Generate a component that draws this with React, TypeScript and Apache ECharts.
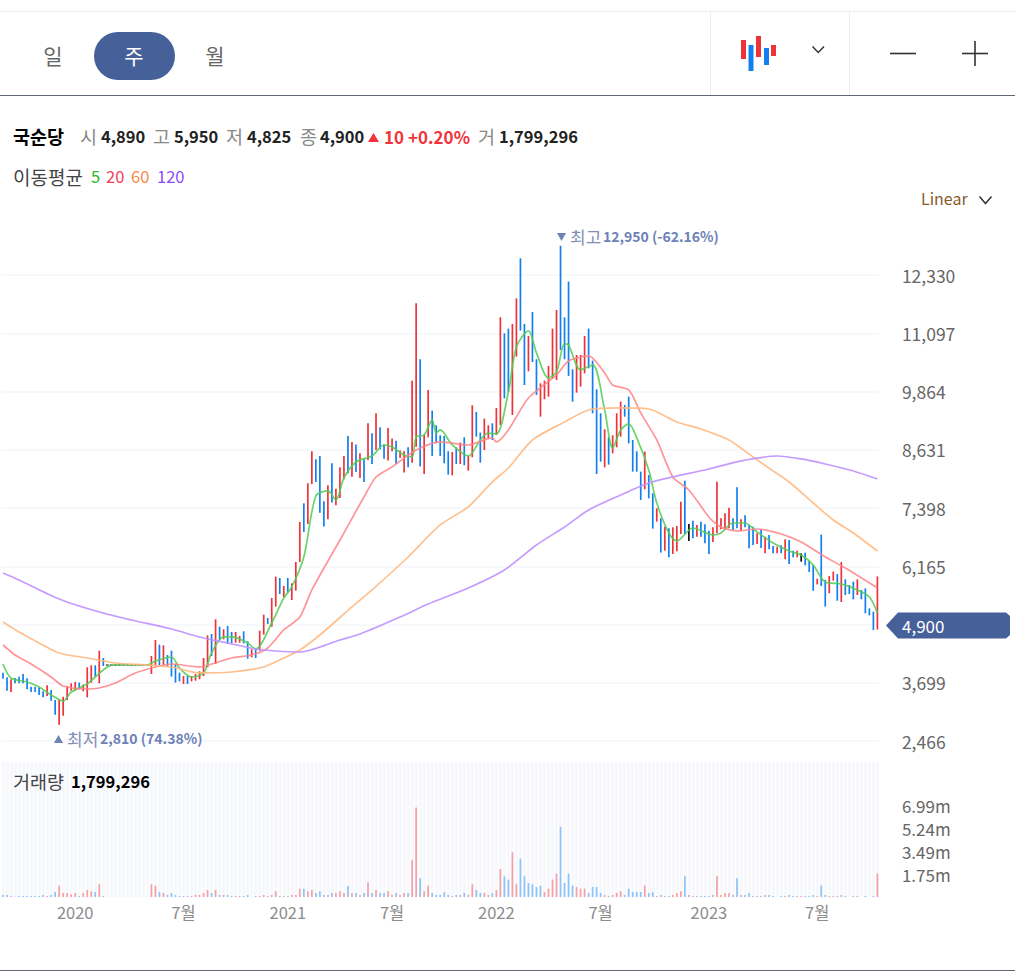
import React, { useEffect, useRef } from "react";
import * as echarts from "echarts";

const highs = [
  3912,3814,3772,3800,3828,3885,3793,3616,3616,3600,
  3518,3645,3546,3334,3334,3405,3630,3687,3715,3700,
  3660,4026,4068,4068,4378,4223,4085,4085,4085,4085,
  4085,4085,4085,4085,4085,4085,4085,4266,4604,4505,
  4491,4287,4378,4096,3912,3842,3842,3842,3885,3941,
  4223,4703,4731,5042,4886,4830,4900,4774,4774,4689,
  4788,4576,4407,4421,4802,5141,5070,5494,5945,5917,
  5748,5917,5804,6256,7102,7497,7921,8598,8429,8500,
  7540,7879,8344,7808,8260,8500,8923,8796,8740,8556,
  8429,9191,8980,9403,9107,8740,9092,8867,8824,8613,
  8598,8683,10094,11732,10546,8951,9897,9459,9149,8937,
  8923,8598,8584,8683,8782,8895,8500,9572,9431,8994,
  9290,9149,9191,9516,11435,11096,11195,11294,11837,12684,
  11294,11040,11548,10546,10038,10094,10405,11195,11590,12950,
  11435,12190,10334,10638,10638,11040,11195,10518,9911,9403,
  9064,8895,8937,9403,9650,9580,9756,8838,8598,8168,
  8591,8097,7709,7391,7180,7003,6968,6989,7017,7532,
  7977,7060,7130,7038,7109,7053,6918,6989,7956,7180,
  7285,7405,7180,7836,7159,7243,7046,7003,6862,6947,
  6792,6827,6594,6580,6608,6735,6721,6495,6495,6439,
  6453,6284,6192,5900,6834,5874,5959,6051,6001,6255,
  5888,5768,5839,5888,5662,5697,5274,5204,5950,
];

const lows = [
  3786,3532,3503,3687,3687,3687,3560,3503,3503,3440,
  3390,3420,3320,3024,2810,3000,3334,3532,3532,3560,
  3518,3390,3700,3828,3687,4054,4065,4065,4065,4065,
  4065,4065,4065,4065,4065,4065,4065,3885,4068,4054,
  4068,4040,3828,3701,3729,3673,3673,3729,3743,3772,
  3842,4026,4266,4096,4604,4618,4520,4534,4548,4548,
  4534,4209,4237,4223,4378,4717,4943,4886,5310,5578,
  5508,5606,5451,5649,6256,6891,7060,7907,7949,7300,
  7004,7159,7512,7455,7610,8006,8133,8062,8161,8034,
  7949,8415,8330,8627,8641,8443,8401,8598,8330,8457,
  8147,8260,8358,8697,8274,8118,8895,8500,8768,8500,
  8344,8105,8090,8330,8330,8302,8189,8472,8909,8358,
  8626,8873,8838,8944,9156,9720,9861,9367,10602,11153,
  10002,10292,10489,9791,9332,9699,9755,10143,10108,10743,
  10546,10193,9650,9840,9967,10249,10355,9403,8118,8379,
  8260,8316,8556,8683,8909,9332,8767,8168,8168,7568,
  7794,7603,6961,7109,6453,6495,6354,6425,6481,6848,
  6848,6700,6756,6792,6792,6650,6425,6679,6862,6947,
  6947,6968,6933,6968,6918,6989,6544,6615,6636,6552,
  6439,6523,6439,6439,6439,6312,6213,6354,6354,6262,
  6185,6043,5648,5780,5747,5310,5592,5860,5436,5408,
  5556,5578,5465,5556,5465,5168,5126,4816,4825,
];

const directions =
  "bbrbbbbbbb" + "brbbrrrrrb" + "rrrbrbkkkk" + "kkkkkkkrrb" + "rbbbbrbrrr" +
  "rrbrbrbbrr" + "bbrbrrbrrb" + "rbrrrbrrbb" + "brbrrrbrbr" + "brbrbbrrbr" +
  "rbrrbrrbbb" + "bbrbrbrrbb" + "rrbrrbbrrb" + "brbbrrrrrb" + "bbbrrrbbbb" +
  "rbrrrbbbbb" + "rbbrbrbrrr" + "bkbrbbbrrr" + "rrbbrbbbrb" + "rbbrbrbbrk" +
  "bbbrbbrrbr" + "bbbrbbbbr";

const volumes = [
  154,154,77,26,77,77,77,77,77,77,
  154,77,154,384,870,307,307,205,307,77,
  307,538,435,384,973,77,0,0,0,0,
  0,0,0,0,0,0,0,973,870,384,
  307,154,307,154,77,77,77,77,154,154,
  307,538,307,538,154,154,154,77,77,77,
  77,154,0,77,77,154,77,154,435,77,
  77,77,154,154,640,640,435,538,307,435,
  154,154,307,307,435,307,870,307,307,154,
  307,1126,307,538,307,307,435,154,307,154,
  307,307,2816,6861,1434,435,870,307,154,154,
  384,154,77,154,154,307,154,973,538,307,
  307,154,307,538,2150,1587,1331,3430,973,2944,
  1587,1075,973,768,870,384,640,1331,1792,5376,
  1075,1792,870,768,640,640,307,768,768,307,
  154,77,154,307,435,154,640,384,384,384,
  870,307,384,77,154,77,77,154,307,435,
  1587,154,77,77,77,77,77,154,1587,154,
  307,307,154,1434,154,154,307,77,77,77,
  154,154,77,0,77,77,154,77,77,77,
  77,77,154,77,870,154,77,77,77,154,
  77,0,77,77,0,77,0,77,1799,
];
const volumeDirectionOverrides: Record<number, string> = { 131: "b", 134: "b", 171: "r", 199: "r" };

const ma5 = [
  [0,4096],[2,3800],[6,3715],[9,3609],[12,3440],[15,3313],[17,3503],[21,3673],[23,3821],[26,4033],
  [28,4075],[36,4075],[38,4160],[42,4244],[44,4011],[47,3821],[50,3906],[52,4329],[55,4668],[57,4668],
  [61,4541],[63,4414],[67,4964],[70,5493],[72,5726],[75,6361],[78,7653],[81,7759],[83,7568],[85,8034],
  [88,8372],[92,8499],[95,8732],[97,8690],[100,8521],[102,8478],[103,8902],[105,8944],[107,9262],[108,8986],
  [109,9050],[112,8732],[116,8499],[119,8838],[121,8986],[123,8965],[126,9854],[128,10807],[131,11146],[133,10680],
  [136,10151],[138,10278],[140,10870],[141,10849],[144,10320],[147,10426],[150,9473],[152,8669],[154,9050],[156,9177],
  [158,8881],[161,8203],[163,7504],[166,6869],[168,6700],[172,6975],[177,6827],[179,6869],[182,7081],[185,7081],
  [188,6891],[192,6658],[196,6488],[199,6404],[202,6192],[205,5832],[209,5790],[213,5663],[216,5514],[218,5176],
];
const ma20 = [
  [0,4498],[3,4287],[7,4096],[12,3821],[15,3630],[21,3567],[24,3588],[28,3694],[33,3906],[38,4033],
  [42,4096],[49,4033],[52,4096],[57,4223],[62,4287],[66,4435],[70,4816],[74,5091],[77,5663],[85,6869],
  [90,7631],[93,8055],[97,8267],[103,8626],[109,8796],[116,8732],[122,8881],[123,8796],[126,9050],[131,9727],
  [138,10214],[141,10511],[146,10616],[150,10257],[152,10003],[156,9897],[159,9410],[163,8838],[167,8055],[171,7780],
  [176,7208],[179,6996],[183,6912],[188,6954],[194,6848],[199,6679],[205,6361],[210,6128],[218,5705],
];
const ma60 = [
  [0,4985],[4,4774],[9,4541],[14,4329],[21,4223],[28,4117],[36,4075],[42,4033],[49,3906],[57,3927],
  [65,4033],[70,4223],[74,4392],[79,4710],[87,5303],[92,5663],[101,6361],[109,7039],[116,7420],[122,7949],
  [126,8245],[132,8838],[140,9219],[146,9473],[154,9516],[161,9494],[168,9219],[174,9071],[181,8838],[187,8478],
  [192,8182],[196,7949],[202,7504],[207,7145],[212,6869],[218,6488],
];
const ma120 = [
  [0,6023],[4,5874],[14,5472],[24,5197],[32,5028],[42,4837],[49,4668],[56,4541],[63,4414],[68,4371],
  [74,4350],[84,4604],[89,4731],[99,5091],[106,5366],[116,5705],[125,6086],[133,6615],[140,6996],[146,7356],
  [154,7674],[161,7928],[167,8055],[176,8224],[184,8394],[193,8499],[199,8436],[205,8330],[212,8182],[218,8013],
];

const axisTickIndexes = [18, 45, 71, 97, 123, 149, 176, 203];
const axisTickLabels = ["2020", "7월", "2021", "7월", "2022", "7월", "2023", "7월"];

const RED = "#ee3239";
const BLUE = "#1180ee";
const BLACK = "#111111";
const NAVY = "#46609a";
const FONT = '"Noto Sans CJK KR", "Noto Sans", sans-serif';

const colorOf = (d: string) => (d === "r" ? RED : d === "b" ? BLUE : BLACK);

const candleData = highs.map((h, i) => [i, lows[i], h]);

const renderCandle = (params: any, api: any) => {
  const i = api.value(0);
  const top = api.coord([i, api.value(2)]);
  const bottom = api.coord([i, api.value(1)]);
  const halted = api.value(2) - api.value(1) <= 20;
  const w = halted ? 3 : 1.7;
  const h = Math.max(bottom[1] - top[1], 1);
  return {
    type: "rect",
    shape: { x: top[0] - w / 2, y: top[1], width: w, height: h },
    style: { fill: colorOf(directions[params.dataIndex]) },
  };
};

const volumeData = volumes.map((v, i) => {
  const d = volumeDirectionOverrides[i] ?? directions[i];
  return { value: v * 1000, itemStyle: { color: d === "r" ? "#f5a0a4" : "#8cc3f8" } };
});

const categories = highs.map((_, i) => {
  const p = axisTickIndexes.indexOf(i);
  return p >= 0 ? axisTickLabels[p] : String(i);
});

function txt(text: string, x: number, y: number, fill: string, fontSize = 16, fontWeight: any = 400, align = "left") {
  return {
    type: "text",
    x,
    y: y - 1,
    silent: true,
    z: 50,
    style: { text, fill, fontSize, fontWeight, fontFamily: FONT, align, verticalAlign: "middle" },
  };
}
const hline = (x1: number, x2: number, y: number, stroke: string, lineWidth = 1) => ({
  type: "line",
  z: 50,
  silent: true,
  shape: { x1, y1: y, x2, y2: y },
  style: { stroke, lineWidth },
});
const vline = (x: number, y1: number, y2: number, stroke: string, lineWidth = 1) => ({
  type: "line",
  z: 50,
  silent: true,
  shape: { x1: x, y1, x2: x, y2 },
  style: { stroke, lineWidth },
});
const box = (x: number, y: number, width: number, height: number, fill: string, r = 0) => ({
  type: "rect",
  z: 50,
  silent: true,
  shape: { x, y, width, height, r },
  style: { fill },
});
const chevron = (x1: number, x2: number, y1: number, y2: number) => ({
  type: "polyline",
  z: 50,
  silent: true,
  shape: { points: [[x1, y1], [(x1 + x2) / 2, y2], [x2, y1]] },
  style: { stroke: "#333", lineWidth: 1.5, fill: "none" },
});
const tri = (pts: number[][], fill: string) => ({
  type: "polygon",
  z: 50,
  silent: true,
  shape: { points: pts },
  style: { fill },
});

const graphics = [
  hline(0, 1015, 11.5, "#ececec"),
  hline(0, 1015, 95.5, "#5f6875", 1.2),
  hline(0, 1015, 970.5, "#5f6875", 1.2),
  vline(710.5, 12, 95, "#ececec"),
  vline(849.5, 12, 95, "#ececec"),
  txt("일", 53, 56, "#666", 21, 400, "center"),
  box(94, 32, 81, 48, NAVY, 24),
  txt("주", 134, 56, "#fff", 21, 400, "center"),
  txt("월", 215, 56, "#666", 21, 400, "center"),
  box(741, 40, 5, 19, RED),
  box(748.5, 45, 5, 26, BLUE),
  box(756, 36, 5, 21, RED),
  box(764, 48, 5, 17, BLUE),
  box(771, 45, 5, 11, RED),
  chevron(812.5, 824, 46.5, 52.5),
  hline(890, 916, 53.5, "#333", 1.6),
  hline(962, 988, 53.5, "#333", 1.6),
  vline(975, 41, 66, "#333", 1.6),
  txt("국순당", 13, 137, "#000", 18.5, 700),
  txt("시", 80, 137, "#888", 18.5),
  txt("4,890", 101, 137, "#222", 16.5, 700),
  txt("고", 153, 137, "#888", 18.5),
  txt("5,950", 174, 137, "#222", 16.5, 700),
  txt("저", 226, 137, "#888", 18.5),
  txt("4,825", 247, 137, "#222", 16.5, 700),
  txt("종", 300, 137, "#888", 18.5),
  txt("4,900", 320, 137, "#222", 16.5, 700),
  tri([[368, 142], [379, 142], [373.5, 133]], "#f2333b"),
  txt("10", 384, 137, "#f2333b", 17, 700),
  txt("+0.20%", 408, 137, "#f2333b", 17, 700),
  txt("거", 478, 137, "#888", 18.5),
  txt("1,799,296", 499, 137, "#222", 16.5, 700),
  txt("이동평균", 13, 177, "#444", 19),
  txt("5", 91, 177, "#2fb62f", 16.5),
  txt("20", 106, 177, "#f0405a", 16.5),
  txt("60", 131, 177, "#f58a4a", 16.5),
  txt("120", 157, 177, "#8a4df5", 16.5),
  txt("Linear", 921, 199, "#8a5a2e", 16),
  chevron(979.5, 991.5, 196.5, 203.5),
  tri([[557, 233], [566, 233], [561.5, 241]], "#6c82b8"),
  txt("최고", 570, 237, "#7f8fb5", 17),
  txt("12,950 (-62.16%)", 603, 237, "#6c82b8", 14, 700),
  tri([[54, 743], [63, 743], [58.5, 735]], "#6c82b8"),
  txt("최저", 67, 739, "#7f8fb5", 17),
  txt("2,810 (74.38%)", 100, 739, "#6c82b8", 14, 700),
  tri([[886, 625.5], [898, 612.5], [1006, 612.5], [1010, 616], [1010, 635], [1006, 638.5], [898, 638.5]], NAVY),
  txt("4,900", 902, 626, "#fff", 17),
  txt("거래량", 13, 782, "#444", 18.5),
  txt("1,799,296", 71, 782, "#000", 16.5, 700),
];

const lineSeries = (name: string, data: number[][], color: string, smooth = 0.25) => ({
  name,
  type: "line",
  data,
  xAxisIndex: 0,
  yAxisIndex: 0,
  showSymbol: false,
  symbol: "none",
  smooth,
  silent: true,
  z: 5,
  lineStyle: { color, width: 1.7 },
});

export default function App() {
  const ref = useRef<HTMLDivElement>(null);
  useEffect(() => {
    const chart = echarts.init(ref.current!, undefined, { renderer: "svg" });
    chart.setOption({
      animation: false,
      backgroundColor: "#fff",
      graphic: graphics,
      grid: [
        { left: 1, width: 878.4, top: 216.75, height: 524.25 },
        { left: 1, width: 878.4, top: 762, height: 135, show: true, backgroundColor: "#f6f8fc", borderWidth: 0 },
      ],
      xAxis: [
        {
          type: "category",
          gridIndex: 0,
          data: categories,
          axisLine: { show: false },
          axisTick: { show: false },
          axisLabel: { show: false },
          splitLine: { show: false },
        },
        {
          type: "category",
          gridIndex: 1,
          data: categories,
          axisLine: { show: false },
          axisTick: { show: false },
          splitLine: { show: true, interval: 0, lineStyle: { color: "#ffffff", width: 1 } },
          axisLabel: {
            show: true,
            interval: (i: number) => axisTickIndexes.includes(i),
            color: "#8c8c8c",
            fontSize: 16.5,
            fontFamily: FONT,
            margin: 7,
            hideOverlap: false,
          },
        },
      ],
      yAxis: [
        {
          type: "value",
          gridIndex: 0,
          position: "right",
          min: 2466,
          max: 13563,
          interval: 1233,
          axisLine: { show: false },
          axisTick: { show: false },
          splitLine: { show: true, showMaxLine: false, lineStyle: { color: "#f4f6fa", width: 1.5 } },
          axisLabel: {
            color: "#666",
            fontSize: 17.5,
            fontFamily: FONT,
            margin: 22.5,
            align: "left",
            padding: [0, 0, 2, 0],
            formatter: (v: number) =>
              v === 4932 || v > 13000 ? "" : v.toLocaleString("en-US"),
          },
        },
        {
          type: "value",
          gridIndex: 1,
          position: "right",
          min: 0,
          max: 10344000,
          interval: 1747000,
          axisLine: { show: false },
          axisTick: { show: false },
          splitLine: { show: false },
          axisLabel: {
            color: "#666",
            fontSize: 17,
            fontFamily: FONT,
            margin: 22.5,
            align: "left",
            padding: [0, 0, 2, 0],
            formatter: (v: number) =>
              v === 0 || v > 7000000 ? "" : (v / 1e6).toFixed(2) + "m",
          },
        },
      ],
      series: [
        {
          name: "국순당",
          type: "custom",
          data: candleData,
          xAxisIndex: 0,
          yAxisIndex: 0,
          renderItem: renderCandle,
          encode: { x: 0, y: [1, 2] },
          clip: true,
          silent: true,
          z: 3,
        },
        lineSeries("MA5", ma5, "rgba(80,205,80,0.85)", 0.3),
        lineSeries("MA20", ma20, "rgba(255,130,135,0.85)"),
        lineSeries("MA60", ma60, "rgba(255,185,130,0.9)"),
        lineSeries("MA120", ma120, "rgba(190,145,255,0.9)"),
        {
          name: "거래량",
          type: "bar",
          data: volumeData,
          xAxisIndex: 1,
          yAxisIndex: 1,
          barWidth: 1.7,
          silent: true,
        },
      ],
    });
    return () => chart.dispose();
  }, []);
  return (
    <div
      ref={ref}
      style={{ position: "fixed", left: 0, top: 0, width: 1015, height: 973, background: "#fff" }}
    />
  );
}
